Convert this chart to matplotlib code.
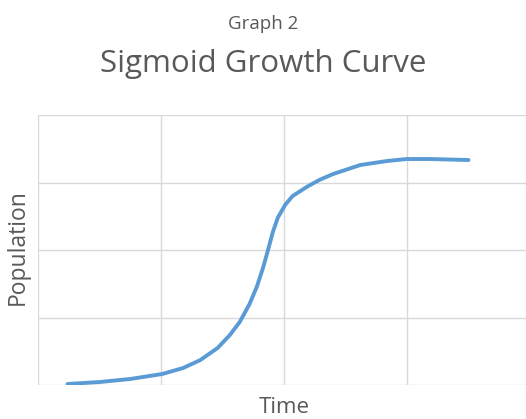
import matplotlib
matplotlib.use("Agg")
import matplotlib.pyplot as plt

plt.rcParams["font.family"] = ["Open Sans", "DejaVu Sans"]

# values (x and y in grid units, no axis labels shown)
time = [0.24, 0.50, 0.75, 1.01, 1.18, 1.32, 1.46, 1.56, 1.64, 1.72, 1.78,
        1.83, 1.87, 1.91, 1.95, 2.01, 2.07, 2.19, 2.29, 2.40, 2.62, 2.84,
        3.00, 3.19, 3.50]
population = [0.015, 0.044, 0.089, 0.163, 0.252, 0.370, 0.548, 0.741, 0.933,
              1.200, 1.460, 1.740, 2.000, 2.270, 2.480, 2.670, 2.800, 2.940,
              3.040, 3.126, 3.259, 3.319, 3.348, 3.348, 3.333]

text_color = "#595959"
grid_color = "#D9D9D9"
line_color = "#5B9BD5"

fig = plt.figure(figsize=(5.26, 4.19), dpi=100)
ax = fig.add_axes([38 / 526, 1 - 385 / 419, 492 / 526, 270 / 419])

ax.plot(time, population, color=line_color, linewidth=2.8,
        solid_capstyle="round", solid_joinstyle="round", zorder=3)

ax.set_xlim(0, 4)
ax.set_ylim(0, 4)
ax.set_xticks([0, 1, 2, 3, 4])
ax.set_yticks([0, 1, 2, 3, 4])
ax.tick_params(length=0, labelbottom=False, labelleft=False)
ax.grid(True, color=grid_color, linewidth=1.0, zorder=0)
for spine in ax.spines.values():
    spine.set_visible(False)

fig.text(284 / 526, 1 - 407 / 419, "Time", ha="center", va="center",
         fontsize=16, color=text_color)
fig.text(18 / 526, 1 - 247 / 419, "Population", ha="center", va="center",
         rotation=90, fontsize=16.5, color=text_color)

fig.text(263 / 526, 1 - 29 / 419, "Graph 2", ha="center", va="baseline",
         fontsize=13.5, color=text_color)
fig.text(263 / 526, 1 - 72 / 419, "Sigmoid Growth Curve", ha="center",
         va="baseline", fontsize=22.5, color=text_color)

fig.savefig("out.png", dpi=100)
